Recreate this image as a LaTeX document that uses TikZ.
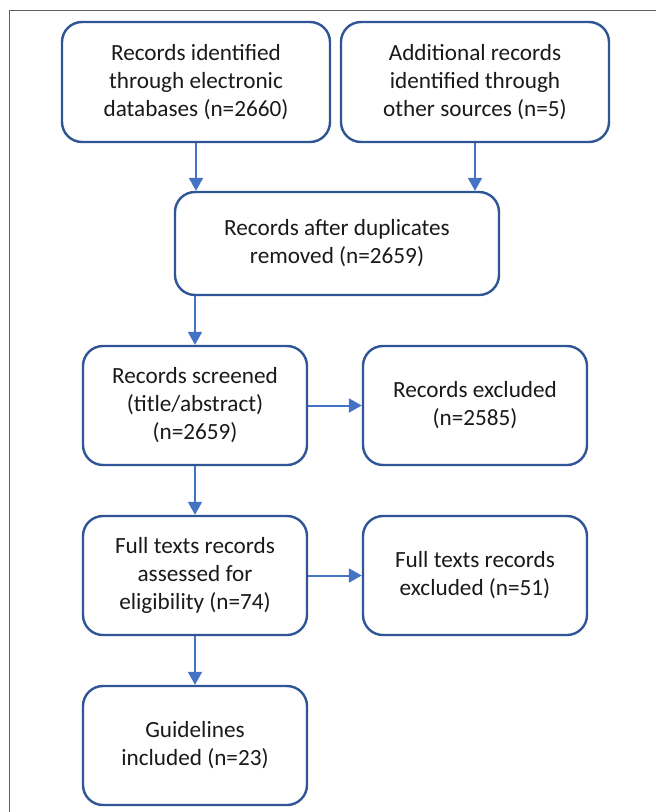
\documentclass[tikz,border=0pt]{standalone}
\usepackage{fontspec}
\setmainfont{Carlito}
\usepackage{xcolor}
\usetikzlibrary{arrows.meta,positioning}
\definecolor{boxblue}{HTML}{2F5597}
\definecolor{arrowblue}{HTML}{4472C4}
\definecolor{txtgray}{HTML}{1A1A1A}
\definecolor{framegray}{HTML}{5F5F5F}

\begin{document}
\begin{tikzpicture}[x=1pt,y=-1pt,
  font=\fontsize{23.2}{28}\selectfont,
  flowbox/.style={draw=boxblue,line width=2.4pt,rounded corners=20pt,fill=white,
    align=center,text=txtgray,inner sep=0pt},
  flowarrow/.style={draw=arrowblue,line width=2pt,-{Triangle[length=13pt,width=14pt]}}]
  \useasboundingbox (0,0) rectangle (656,812);
  \draw[framegray,line width=1.8pt] (9.5,812) -- (9.5,10.5) -- (656,10.5);
  % top row
  \node[flowbox,minimum width=268pt,minimum height=120pt] (ident) at (196,82)
    {Records identified\\through electronic\\databases (n=2660)};
  \node[flowbox,minimum width=268pt,minimum height=120pt] (other) at (475,82)
    {Additional records\\identified through\\other sources (n=5)};
  \node[flowbox,minimum width=324pt,minimum height=103pt] (dedup) at (337,243.5)
    {Records after duplicates\\removed (n=2659)};
  % screening
  \node[flowbox,minimum width=224pt,minimum height=119pt] (screen) at (195,405.5)
    {Records screened\\(title/abstract)\\(n=2659)};
  \node[flowbox,minimum width=224pt,minimum height=119pt] (excl) at (475,405.5)
    {Records excluded\\(n=2585)};
  % eligibility
  \node[flowbox,minimum width=224pt,minimum height=119pt] (full) at (195,575.5)
    {Full texts records\\assessed for\\eligibility (n=74)};
  \node[flowbox,minimum width=224pt,minimum height=119pt] (fullexcl) at (475,575.5)
    {Full texts records\\excluded (n=51)};
  \node[flowbox,minimum width=224pt,minimum height=119pt] (incl) at (195,745.5)
    {Guidelines\\included (n=23)};
  % arrows
  \draw[flowarrow] (ident.south) -- (ident.south |- dedup.north);
  \draw[flowarrow] (other.south) -- (other.south |- dedup.north);
  \draw[flowarrow] (screen.north |- dedup.south) -- (screen.north);
  \draw[flowarrow] (screen.east) -- (excl.west);
  \draw[flowarrow] (screen.south) -- (full.north);
  \draw[flowarrow] (full.east) -- (fullexcl.west);
  \draw[flowarrow] (full.south) -- (incl.north);
\end{tikzpicture}
\end{document}
